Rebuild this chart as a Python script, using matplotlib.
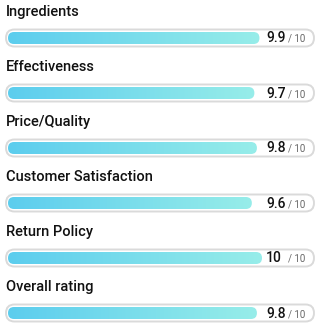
import numpy as np
import matplotlib.pyplot as plt
from matplotlib.patches import FancyBboxPatch
from matplotlib.colors import LinearSegmentedColormap

labels = ['Ingredients', 'Effectiveness', 'Price/Quality',
          'Customer Satisfaction', 'Return Policy', 'Overall rating']
scores = [9.9, 9.7, 9.8, 9.6, 10, 9.8]
score_text = ['9.9', '9.7', '9.8', '9.6', '10', '9.8']
max_score = 10

W, H = 321, 330
fig = plt.figure(figsize=(W / 100, H / 100), dpi=100)
ax = fig.add_axes([0, 0, 1, 1])

# x in score units: 0 -> 8px, 10 -> 262px
ppu = 254 / max_score
x0 = -8 / ppu
ax.set_xlim(x0, x0 + W / ppu)
ax.set_ylim(H, 0)
ax.axis('off')

def px(x):
    return x0 + x / ppu

cmap = LinearSegmentedColormap.from_list('g', ['#5ccdee', '#97ede9'])
grad = np.linspace(0, 1, 256).reshape(1, -1)

for i, (lab, s, st) in enumerate(zip(labels, scores, score_text)):
    yc = 38 + 55 * i
    ax.text(px(6), yc - 26, lab, fontsize=10.5, fontweight='medium',
            family='Roboto', color='#111111', va='center', ha='left')
    # track
    track = FancyBboxPatch((px(6), yc - 8.5), px(314) - px(6), 17,
                           boxstyle='round,pad=0,rounding_size=%f' % (8.5 / ppu),
                           mutation_aspect=ppu, facecolor='white',
                           edgecolor='#dadada', linewidth=1.4)
    ax.add_patch(track)
    # fill
    fill = FancyBboxPatch((0, yc - 6), s, 12,
                          boxstyle='round,pad=0,rounding_size=%f' % (6 / ppu),
                          mutation_aspect=ppu,
                          facecolor='none', edgecolor='none')
    ax.add_patch(fill)
    im = ax.imshow(grad, cmap=cmap, aspect='auto',
                   extent=(0, s, yc + 6, yc - 6), zorder=2)
    im.set_clip_path(fill)
    ax.text(px(266), yc + 0.5, st, fontsize=10, fontweight='medium',
            family='Roboto', color='#111111', va='center', ha='left')
    ax.text(px(288), yc + 1, '/ 10', fontsize=7, family='Roboto',
            color='#666666', va='center', ha='left')

fig.savefig('out.png', dpi=100)
